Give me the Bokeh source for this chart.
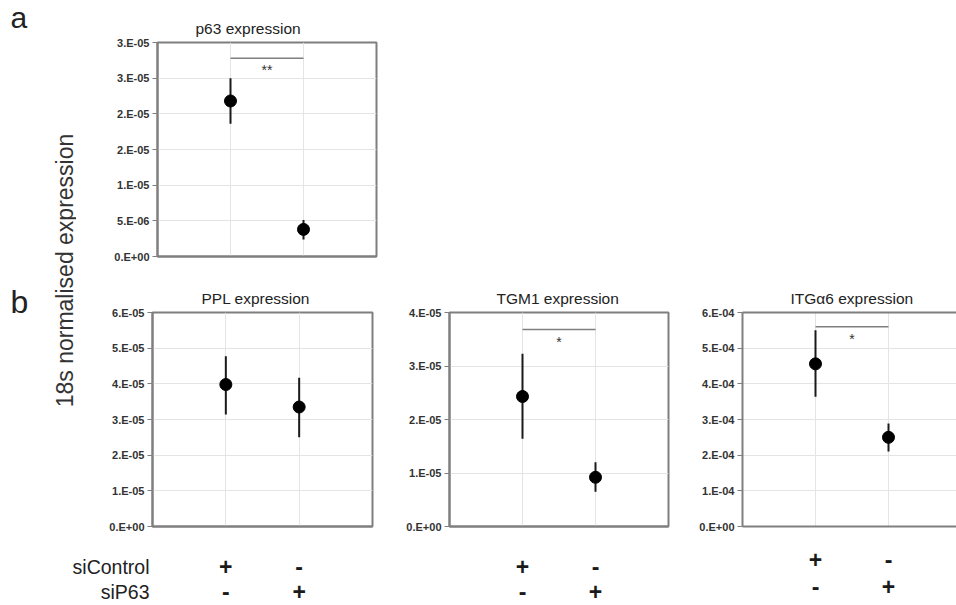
import math
from bokeh.plotting import figure
from bokeh.models import Range1d, FixedTicker, Label, LinearAxis
from bokeh.layouts import row, column
from bokeh.core.properties import value
from bokeh.embed import file_html
from bokeh.resources import INLINE

# ---------------- data ----------------
positions = [1, 2]
si_control = ["+", "-"]
si_p63 = ["-", "+"]
row_names = {2: "siControl", 1: "siP63"}

p63_mean = [2.18e-5, 3.8e-6]
p63_lo = [1.86e-5, 2.4e-6]
p63_hi = [2.50e-5, 5.1e-6]
p63_sig = 2.78e-5
p63_ticks = [0, 5e-6, 1e-5, 1.5e-5, 2e-5, 2.5e-5, 3e-5]
p63_labels = ["0.E+00", "5.E-06", "1.E-05", "2.E-05", "2.E-05", "3.E-05", "3.E-05"]

ppl_mean = [3.98e-5, 3.35e-5]
ppl_lo = [3.14e-5, 2.50e-5]
ppl_hi = [4.77e-5, 4.17e-5]
ppl_ticks = [0, 1e-5, 2e-5, 3e-5, 4e-5, 5e-5, 6e-5]
ppl_labels = ["0.E+00", "1.E-05", "2.E-05", "3.E-05", "4.E-05", "5.E-05", "6.E-05"]

tgm_mean = [2.43e-5, 9.2e-6]
tgm_lo = [1.64e-5, 6.5e-6]
tgm_hi = [3.23e-5, 1.2e-5]
tgm_sig = 3.68e-5
tgm_ticks = [0, 1e-5, 2e-5, 3e-5, 4e-5]
tgm_labels = ["0.E+00", "1.E-05", "2.E-05", "3.E-05", "4.E-05"]

itg_mean = [4.56e-4, 2.50e-4]
itg_lo = [3.64e-4, 2.10e-4]
itg_hi = [5.50e-4, 2.89e-4]
itg_sig = 5.6e-4
itg_ticks = [0, 1e-4, 2e-4, 3e-4, 4e-4, 5e-4, 6e-4]
itg_labels = ["0.E+00", "1.E-04", "2.E-04", "3.E-04", "4.E-04", "5.E-04", "6.E-04"]

FONT = "Liberation Sans"
BOX = "#7f7f7f"
GRID = "#e4e4e4"


def panel(title, mean, lo, hi, ticks, labels, width, height, mbl, mbr, mbt, mbb,
          xend=3.0, title_dx=47, sig=None, stars=None, outline=True):
    p = figure(width=width, height=height, x_range=Range1d(0, xend),
               y_range=Range1d(ticks[0], ticks[-1]), output_backend="svg",
               toolbar_location=None, min_border_left=mbl, min_border_right=mbr,
               min_border_top=mbt, min_border_bottom=mbb, title=title)
    p.title.align = "left"
    p.title.offset = title_dx
    p.title.text_font = FONT
    p.title.text_font_size = "15.5px"
    p.title.text_font_style = "normal"
    p.title.text_color = "#222222"
    p.title.standoff = 11
    p.background_fill_color = "white"
    p.border_fill_color = "white"

    ya = p.left[0]
    ya.ticker = FixedTicker(ticks=ticks)
    ya.major_label_overrides = {t: l for t, l in zip(ticks, labels)}
    ya.major_label_text_font = FONT
    ya.major_label_text_font_size = "11px"
    ya.major_label_text_font_style = "bold"
    ya.major_label_text_color = "#333333"
    ya.major_tick_out = 5
    ya.major_tick_in = 0
    ya.minor_tick_out = 0
    ya.minor_tick_in = 0
    ya.major_label_standoff = 3
    ya.axis_line_color = BOX
    ya.axis_line_width = 2
    ya.major_tick_line_color = BOX

    xa = p.below[0]
    xa.ticker = FixedTicker(ticks=[])
    xa.major_tick_out = 0
    xa.major_tick_in = 0
    xa.minor_tick_out = 0
    xa.minor_tick_in = 0
    xa.axis_line_color = BOX
    xa.axis_line_width = 2
    p.xgrid.ticker = FixedTicker(ticks=positions)
    p.xgrid.grid_line_color = GRID
    p.ygrid.grid_line_color = GRID

    if outline:
        p.outline_line_color = BOX
        p.outline_line_width = 2
    else:
        p.outline_line_color = None
        top = LinearAxis(ticker=FixedTicker(ticks=[]), axis_line_color=BOX,
                         axis_line_width=2, major_tick_out=0, major_tick_in=0,
                         minor_tick_out=0, minor_tick_in=0, major_label_standoff=0)
        p.add_layout(top, "above")

    p.segment(x0=positions, y0=lo, x1=positions, y1=hi, line_color="#1a1a1a", line_width=2)
    p.scatter(x=positions, y=mean, size=12, color="black")

    if sig is not None:
        p.segment(x0=[positions[0]], y0=[sig], x1=[positions[1]], y1=[sig],
                  line_color=BOX, line_width=1.5)
        p.add_layout(Label(x=(positions[0] + positions[1]) / 2, y=sig, text=stars,
                           y_offset=-4, text_align="center", text_baseline="top",
                           text_font=FONT, text_font_size="14px", text_color="#333333"))
    return p


def strip(x_range, width, mbl, mbr, yr, with_names=False):
    s = figure(width=width, height=60, x_range=x_range, y_range=Range1d(*yr),
               output_backend="svg", toolbar_location=None, min_border_left=mbl,
               min_border_right=mbr, min_border_top=0, min_border_bottom=0,
               x_axis_type=None, y_axis_type="linear" if with_names else None)
    s.grid.visible = False
    s.outline_line_color = None
    s.background_fill_color = "white"
    s.border_fill_color = "white"
    if with_names:
        ya = s.left[0]
        ya.ticker = FixedTicker(ticks=list(row_names.keys()))
        ya.major_label_overrides = row_names
        ya.major_label_text_font = FONT
        ya.major_label_text_font_size = "19.5px"
        ya.major_label_text_color = "#222222"
        ya.major_label_standoff = -3
        ya.axis_line_color = None
        ya.major_tick_line_color = None
        ya.minor_tick_line_color = None
    s.text(x=positions, y=[2, 2], text=si_control, text_align="center",
           text_baseline="middle", text_font=value(FONT), text_font_size="23px",
           text_font_style="bold", text_color="#1a1a1a")
    s.text(x=positions, y=[1, 1], text=si_p63, text_align="center",
           text_baseline="middle", text_font=value(FONT), text_font_size="23px",
           text_font_style="bold", text_color="#1a1a1a")
    return s


# ---------------- left strip ----------------
left = figure(width=76, height=545, x_range=Range1d(0, 76), y_range=Range1d(545, 0),
              output_backend="svg", toolbar_location=None, min_border=0,
              x_axis_type=None, y_axis_type=None)
left.grid.visible = False
left.outline_line_color = None
left.border_fill_color = "white"
left.background_fill_color = "white"
left.add_layout(Label(x=10, y=17, text="a", text_font=FONT, text_font_size="30px",
                      text_baseline="alphabetic", text_color="#222222"))
left.add_layout(Label(x=10, y=301, text="b", text_font=FONT, text_font_size="32px",
                      text_baseline="alphabetic", text_color="#222222"))
left.add_layout(Label(x=64, y=270, text="18s normalised expression", angle=math.pi / 2,
                      text_align="center", text_baseline="middle", text_font=FONT,
                      text_font_size="23px", text_color="#333333"))

# ---------------- panels ----------------
pa = panel("p63 expression", p63_mean, p63_lo, p63_hi, p63_ticks, p63_labels,
           width=310, height=278, mbl=81, mbr=10, mbt=42, mbb=22, title_dx=38,
           sig=p63_sig, stars="**")

ppl = panel("PPL expression", ppl_mean, ppl_lo, ppl_hi, ppl_ticks, ppl_labels,
            width=324, height=267, mbl=76, mbr=28, mbt=34, mbb=19, title_dx=49)
tgm = panel("TGM1 expression", tgm_mean, tgm_lo, tgm_hi, tgm_ticks, tgm_labels,
            width=295, height=267, mbl=49, mbr=27, mbt=34, mbb=19, title_dx=47,
            sig=tgm_sig, stars="*")
itg = panel("ITG\u03b16 expression", itg_mean, itg_lo, itg_hi, itg_ticks, itg_labels,
            width=261, height=267, mbl=47, mbr=0, mbt=34, mbb=19, xend=3.0 * 214 / 219,
            title_dx=48, sig=itg_sig, stars="*", outline=False)

ppl_s = strip(ppl.x_range, 400, 152, 28, (0.44, 2.84), with_names=True)
tgm_s = strip(tgm.x_range, 295, 49, 27, (0.44, 2.84))
itg_s = strip(itg.x_range, 261, 47, 0, (0.296, 2.519))

layout = column(row(left, column(pa, row(ppl, tgm, itg))), row(ppl_s, tgm_s, itg_s))

open("out.html", "w").write(file_html(layout, INLINE))
